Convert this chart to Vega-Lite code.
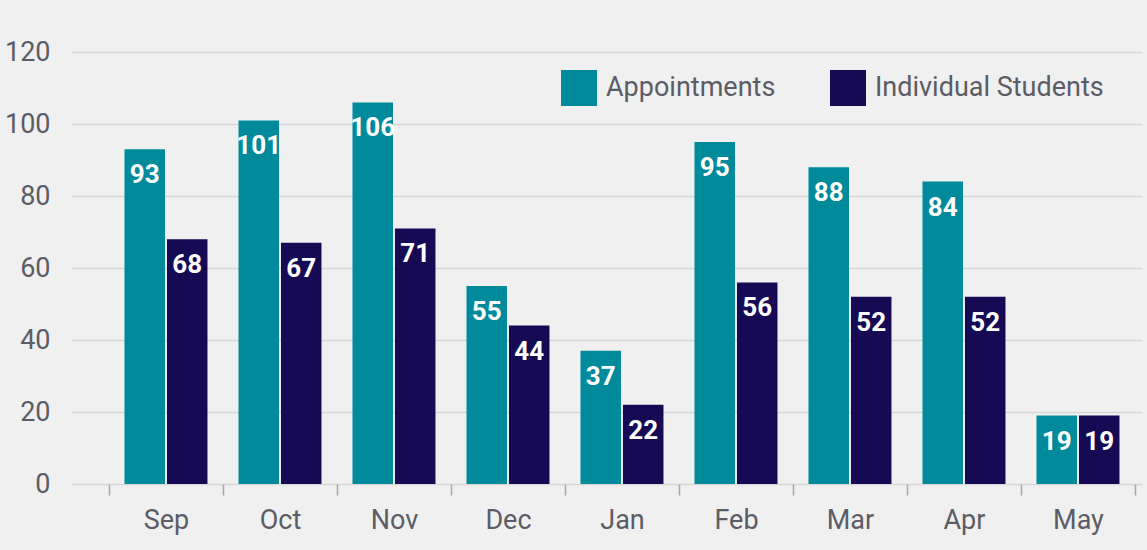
{
  "$schema": "https://vega.github.io/schema/vega-lite/v6.json",
  "width": 1071,
  "height": 432,
  "autosize": "none",
  "padding": {"left": 71, "top": 52, "right": 5, "bottom": 66},
  "background": "#f0f0f0",
  "config": {
    "view": {"stroke": null},
    "font": "Roboto",
    "axis": {"labelFont": "Roboto", "labelColor": "#5c5c66", "labelFontSize": 27}
  },
  "data": {
    "values": [
      {"month": "Sep", "series": "Appointments", "value": 93},
      {"month": "Sep", "series": "Individual Students", "value": 68},
      {"month": "Oct", "series": "Appointments", "value": 101},
      {"month": "Oct", "series": "Individual Students", "value": 67},
      {"month": "Nov", "series": "Appointments", "value": 106},
      {"month": "Nov", "series": "Individual Students", "value": 71},
      {"month": "Dec", "series": "Appointments", "value": 55},
      {"month": "Dec", "series": "Individual Students", "value": 44},
      {"month": "Jan", "series": "Appointments", "value": 37},
      {"month": "Jan", "series": "Individual Students", "value": 22},
      {"month": "Feb", "series": "Appointments", "value": 95},
      {"month": "Feb", "series": "Individual Students", "value": 56},
      {"month": "Mar", "series": "Appointments", "value": 88},
      {"month": "Mar", "series": "Individual Students", "value": 52},
      {"month": "Apr", "series": "Appointments", "value": 84},
      {"month": "Apr", "series": "Individual Students", "value": 52},
      {"month": "May", "series": "Appointments", "value": 19},
      {"month": "May", "series": "Individual Students", "value": 19}
    ]
  },
  "encoding": {
    "x": {
      "field": "month",
      "type": "nominal",
      "sort": ["Sep", "Oct", "Nov", "Dec", "Jan", "Feb", "Mar", "Apr", "May"],
      "scale": {"paddingInner": 0, "paddingOuter": 0.1974, "align": 0.844},
      "axis": {
        "title": null,
        "labelAngle": 0,
        "domain": false,
        "ticks": true,
        "tickBand": "extent",
        "tickColor": "#a8a8a8",
        "tickWidth": 1.5,
        "tickSize": 11,
        "labelPadding": 12
      }
    },
    "xOffset": {
      "field": "series",
      "type": "nominal",
      "scale": {"paddingInner": 0.047, "paddingOuter": 0.365}
    },
    "y": {
      "field": "value",
      "type": "quantitative",
      "scale": {"domain": [0, 120], "nice": false},
      "axis": {
        "title": null,
        "values": [0, 20, 40, 60, 80, 100, 120],
        "domain": false,
        "ticks": false,
        "grid": true,
        "gridColor": "#d6d6d6",
        "gridWidth": 1.5,
        "labelPadding": 21
      }
    }
  },
  "layer": [
    {
      "mark": {"type": "bar"},
      "encoding": {
        "color": {
          "field": "series",
          "type": "nominal",
          "scale": {"domain": ["Appointments", "Individual Students"], "range": ["#008a9b", "#160a54"]},
          "legend": {
            "title": null,
            "orient": "none",
            "legendX": 490,
            "legendY": 18,
            "direction": "horizontal",
            "symbolType": "square",
            "symbolSize": 1296,
            "symbolStrokeWidth": 0,
            "symbolOpacity": 1,
            "labelFont": "Roboto",
            "labelFontSize": 27,
            "labelColor": "#5c5c66",
            "labelOffset": 9,
            "columnPadding": 54,
            "labelLimit": 400
          }
        }
      }
    },
    {
      "mark": {
        "type": "text",
        "font": "Liberation Sans Narrow, Roboto",
        "fontWeight": "bold",
        "fontSize": 26,
        "fill": "#ffffff",
        "align": "center",
        "baseline": "alphabetic",
        "dy": 34
      },
      "encoding": {
        "text": {"field": "value", "type": "quantitative"}
      }
    }
  ]
}
